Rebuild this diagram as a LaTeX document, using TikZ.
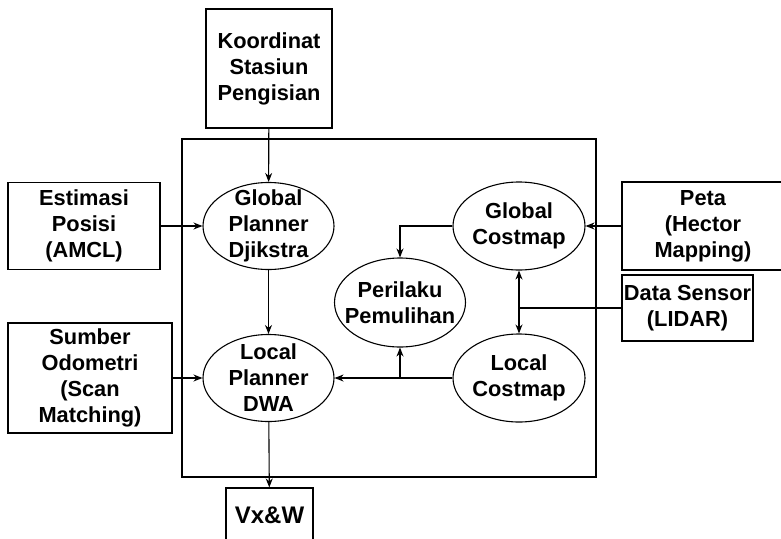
\documentclass[tikz,border=0pt]{standalone}
\usepackage{fontspec}
\setmainfont{Liberation Sans}
\usetikzlibrary{shapes.geometric,arrows.meta}
\begin{document}
\begin{tikzpicture}[x=1pt, y=-1pt, line width=1.1pt, >={Stealth[length=9pt,width=7pt]},
  box node/.style={rectangle,draw,align=center,inner sep=0pt},
  oval node/.style={ellipse,draw,align=center,inner sep=-30pt,minimum width=131pt,minimum height=87pt}]
\useasboundingbox (0,0) rectangle (781,538);
\clip (0,0) rectangle (781,538);
\draw (182,139) rectangle (596,477);
\begin{scope}[every node/.style={font=\fontsize{21.8}{26}\selectfont\bfseries}]
\node [box node, minimum width=126pt, minimum height=119pt](koor) at (269,68.5) {Koordinat\\Stasiun\\Pengisian};
\node [box node, minimum width=152pt, minimum height=87pt](amcl) at (84,226) {Estimasi\\Posisi\\(AMCL)};
\node [box node, minimum width=164pt, minimum height=110pt](odom) at (90,378) {Sumber\\Odometri\\(Scan\\Matching)};
\node [box node, minimum width=162pt, minimum height=88pt](peta) at (703,226) {Peta\\(Hector\\Mapping)};
\node [box node, minimum width=131pt, minimum height=66pt](lidar) at (687.5,308) {Data Sensor\\(LIDAR)};
\node [box node, minimum width=87pt, minimum height=54pt, font=\fontsize{24}{28}\selectfont\bfseries](vw) at (269.5,515) {Vx\&W};
\node [oval node](gp) at (268.5,226) {Global\\Planner\\Djikstra};
\node [oval node](lp) at (268.5,378) {Local\\Planner\\DWA};
\node [oval node, minimum width=132pt, minimum height=88pt](gc) at (519,226) {Global\\Costmap};
\node [oval node, minimum width=132pt, minimum height=88pt](lc) at (519,378) {Local\\Costmap};
\node [oval node, minimum height=89pt](pp) at (400,302.5) {Perilaku\\Pemulihan};
\end{scope}
\draw [->] (koor) -- (gp);
\draw [->] (amcl) -- (gp);
\draw [->] (odom) -- (lp);
\draw [->] (gp) -- (lp);
\draw [->] (lp) -- (vw);
\draw [->] (peta) -- (gc);
\draw [<->] (gc) -- (lc);
\draw (lidar.west) -- (lidar.west -| gc.south);
\draw [->] (gc.west) -| (pp.north);
\draw [->] (lc.west) -- (lp.east);
\draw [->] (pp.south |- lc.west) -- (pp.south);
\end{tikzpicture}
\end{document}
